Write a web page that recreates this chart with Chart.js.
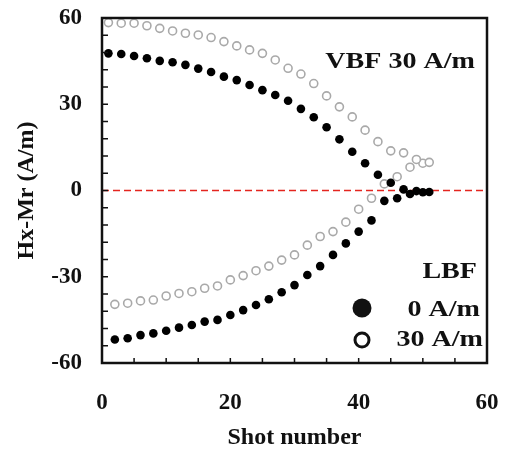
<!DOCTYPE html>
<html>
<head>
<meta charset="utf-8">
<script src="https://cdn.jsdelivr.net/npm/chart.js@4.4.1/dist/chart.umd.min.js"></script>
<style>
  html, body { margin: 0; padding: 0; background: #fff; }
  #wrap { width: 508px; height: 453px; }
</style>
</head>
<body>
<div id="wrap"><canvas id="shotChart"></canvas></div>
<script>
// shot numbers (upper curves on odd shots, lower curves on even shots)
const shotsOdd = [1, 3, 5, 7, 9, 11, 13, 15, 17, 19, 21, 23, 25, 27, 29, 31, 33, 35, 37, 39, 41, 43, 45, 47, 49, 51];
const shotsEven = [2, 4, 6, 8, 10, 12, 14, 16, 18, 20, 22, 24, 26, 28, 30, 32, 34, 36, 38, 40, 42, 44, 46, 48, 50];

// VBF 30 A/m, starting positive
const upperLbf0 = [47.7, 47.5, 46.8, 46.0, 45.1, 44.6, 43.7, 42.4, 41.2, 39.6, 38.4, 36.7, 34.9, 33.2, 31.2, 28.4, 25.5, 22.0, 17.8, 13.5, 9.5, 5.5, 2.7, 0.4, -0.2, -0.5];
const upperLbf30 = [58.4, 58.2, 58.2, 57.3, 56.4, 55.5, 54.7, 54.1, 53.2, 51.8, 50.3, 48.9, 47.7, 45.4, 42.5, 40.5, 37.2, 32.9, 29.1, 25.6, 21.0, 17.0, 13.8, 13.1, 10.8, 9.8];
// starting negative
const lowerLbf0 = [-51.8, -51.4, -50.3, -49.7, -48.8, -47.7, -46.8, -45.6, -45.0, -43.3, -41.6, -39.8, -37.8, -35.4, -32.9, -29.4, -26.3, -22.4, -18.4, -14.3, -10.4, -3.6, -2.7, -1.2, -0.6];
const lowerLbf30 = [-39.6, -39.2, -38.4, -38.1, -36.7, -35.8, -35.2, -34.0, -33.2, -31.1, -29.6, -27.9, -26.3, -24.2, -22.4, -19.0, -16.0, -14.3, -11.0, -6.5, -2.7, 2.3, 4.8, 8.1, 9.5];

const xTicks = [0, 20, 40, 60];
const yTicks = [-60, -30, 0, 30, 60];

const FONT = '"Liberation Serif", "Times New Roman", serif';
const STRETCH = 1.17;

function pts(xs, ys) {
  return xs.map((x, i) => ({ x: x, y: ys[i] }));
}

function stretchedText(ctx, text, x, y, align) {
  ctx.save();
  ctx.translate(x, y);
  ctx.scale(STRETCH, 1);
  ctx.textAlign = align;
  ctx.textBaseline = 'middle';
  ctx.fillText(text, 0, 0);
  ctx.restore();
}

// frame, inner minor ticks, labels and the custom legend
const decorations = {
  id: 'decorations',
  afterDraw(chart) {
    const ctx = chart.ctx;
    const a = chart.chartArea;
    const xs = chart.scales.x, ys = chart.scales.y;
    ctx.save();
    ctx.strokeStyle = '#111';
    ctx.lineWidth = 1.5;
    ctx.beginPath();
    for (let v = 0; v <= 60; v += 5) {
      const px = xs.getPixelForValue(v);
      ctx.moveTo(px, a.bottom);
      ctx.lineTo(px, a.bottom - 5);
    }
    for (let v = -60; v <= 60; v += 6) {
      const py = ys.getPixelForValue(v);
      ctx.moveTo(a.left, py);
      ctx.lineTo(a.left + 6, py);
    }
    ctx.stroke();
    ctx.lineWidth = 2.5;
    ctx.strokeRect(a.left, a.top, a.right - a.left, a.bottom - a.top);

    ctx.fillStyle = '#111';
    ctx.font = 'bold 24px ' + FONT;
    stretchedText(ctx, 'VBF 30 A/m', a.right - 12, a.top + 44, 'right');
    stretchedText(ctx, 'LBF', a.right - 10, a.bottom - 91, 'right');
    stretchedText(ctx, '0 A/m', a.right - 7, a.bottom - 53, 'right');
    stretchedText(ctx, '30 A/m', a.right - 4, a.bottom - 23, 'right');

    // legend markers
    ctx.beginPath();
    ctx.arc(a.right - 125, a.bottom - 55, 9.5, 0, Math.PI * 2);
    ctx.fill();
    ctx.beginPath();
    ctx.lineWidth = 3;
    ctx.arc(a.right - 125, a.bottom - 23, 7, 0, Math.PI * 2);
    ctx.stroke();
    ctx.restore();
  }
};

function noScalePadding(scale) {
  scale.paddingTop = 0;
  scale.paddingBottom = 0;
  scale.paddingLeft = 0;
  scale.paddingRight = 0;
}

const ctx = document.getElementById('shotChart').getContext('2d');
const shotChart = new Chart(ctx, {
  type: 'scatter',
  data: {
    datasets: [
      {
        label: 'VBF 30, LBF 0 A/m',
        data: pts(shotsOdd, upperLbf0),
        pointRadius: 4.3,
        pointBackgroundColor: '#000',
        pointBorderWidth: 0
      },
      {
        label: 'LBF 0 A/m',
        data: pts(shotsEven, lowerLbf0),
        pointRadius: 4.3,
        pointBackgroundColor: '#000',
        pointBorderWidth: 0
      },
      {
        label: 'VBF 30, LBF 30 A/m',
        data: pts(shotsOdd, upperLbf30),
        pointRadius: 4,
        pointBackgroundColor: '#fff',
        pointBorderColor: '#a9a9a9',
        pointBorderWidth: 1.6
      },
      {
        label: 'LBF 30 A/m',
        data: pts(shotsEven, lowerLbf30),
        pointRadius: 4,
        pointBackgroundColor: '#fff',
        pointBorderColor: '#a9a9a9',
        pointBorderWidth: 1.6
      },
      {
        label: 'zero',
        type: 'line',
        data: [{ x: 0, y: 0 }, { x: 60, y: 0 }],
        borderColor: '#e4251f',
        borderWidth: 1.5,
        borderDash: [7, 4],
        pointRadius: 0,
        order: 10
      }
    ]
  },
  options: {
    responsive: true,
    maintainAspectRatio: false,
    animation: false,
    layout: { padding: { left: 0, top: 18, right: 21, bottom: 0 } },
    plugins: { legend: { display: false }, tooltip: { enabled: false } },
    scales: {
      x: {
        type: 'linear',
        min: 0,
        max: 60,
        afterFit(scale) { scale.height = 90; noScalePadding(scale); },
        afterBuildTicks(scale) { scale.ticks = xTicks.map(v => ({ value: v })); },
        grid: { display: false, drawTicks: false },
        border: { display: false },
        ticks: { color: '#111', padding: 26, font: { family: FONT, size: 23, weight: 'bold' } },
        title: {
          display: true,
          text: 'Shot number',
          color: '#111',
          padding: { top: 0, bottom: 1 },
          font: { family: FONT, size: 24, weight: 'bold' }
        }
      },
      y: {
        min: -60,
        max: 60,
        afterFit(scale) { scale.width = 102; noScalePadding(scale); },
        afterBuildTicks(scale) { scale.ticks = yTicks.map(v => ({ value: v })); },
        grid: { display: false, drawTicks: false },
        border: { display: false },
        ticks: { color: '#111', padding: 20, font: { family: FONT, size: 23, weight: 'bold' } },
        title: {
          display: true,
          text: 'Hx-Mr (A/m)',
          color: '#111',
          padding: { top: 12, bottom: 0 },
          font: { family: FONT, size: 24, weight: 'bold' }
        }
      }
    }
  },
  plugins: [decorations]
});
</script>
</body>
</html>
